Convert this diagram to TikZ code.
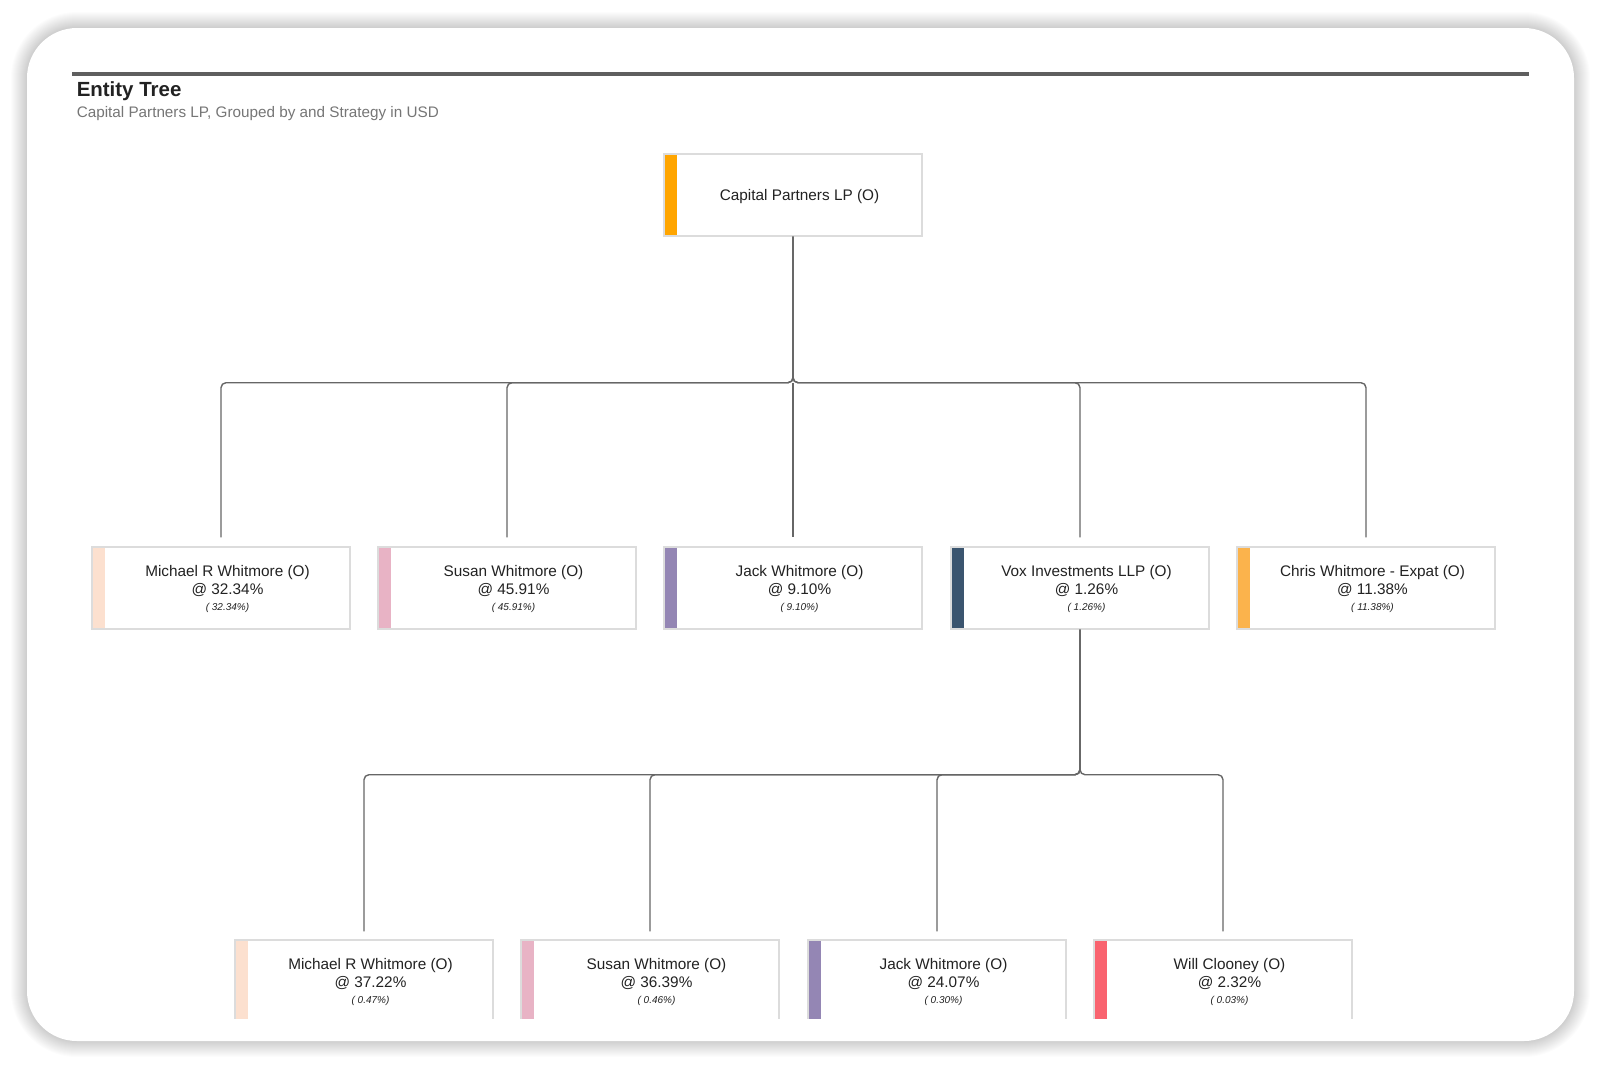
\documentclass[tikz,border=0pt]{standalone}
\usepackage{fontspec}
\setmainfont{Liberation Sans}
\newdimen\pxu \pxu=0.75pt
\definecolor{rootbar}{HTML}{FFA500}
\definecolor{peach}{HTML}{FCE0CF}
\definecolor{pinkbar}{HTML}{E8B3C5}
\definecolor{purplebar}{HTML}{9486B4}
\definecolor{navybar}{HTML}{3B556F}
\definecolor{amberbar}{HTML}{FBB34C}
\definecolor{coralbar}{HTML}{F9636F}
\definecolor{boxline}{HTML}{DCDCDC}
\definecolor{connc}{HTML}{666666}
\definecolor{txtc}{HTML}{222222}
\definecolor{subc}{HTML}{767676}
\definecolor{hdrline}{HTML}{5F5F5F}
\newcommand\fname{\fontsize{11.5pt}{13.5pt}\selectfont}
\newcommand\fsmall{\fontsize{7.5pt}{9pt}\selectfont\itshape}
\begin{document}
\begin{tikzpicture}[x=0.75pt,y=-0.75pt,
  ent/.style={rectangle, draw=boxline, line width=1.4\pxu, fill=white,
    minimum width=258\pxu, minimum height=82\pxu, inner sep=0pt,
    path picture={\fill[#1] (path picture bounding box.north west) rectangle ([xshift=13\pxu]path picture bounding box.south west);}},
  txt/.style={align=center, text=txtc, font=\fname, inner sep=0pt},
  conn/.style={draw=connc, line width=1.4\pxu, rounded corners=5\pxu}]
\useasboundingbox (0,0) rectangle (1600,1068);
\fill[white] (0,0) rectangle (1600,1068);
% card shadow
\foreach \k in {1,...,16}{
  \pgfmathsetmacro\rr{(50+\k)*0.75}
  \fill[black,opacity=0.012,rounded corners=\rr pt] (27-\k,28-\k) rectangle (1574+\k,1041+\k);
}
\fill[white, rounded corners=37.5pt] (27,28) rectangle (1574,1041);
% header
\draw[hdrline, line width=4\pxu] (72,74) -- (1529,74);
\node[anchor=base west, inner sep=0pt, text=txtc, font=\fontsize{15.35pt}{18pt}\selectfont\bfseries] (title) at (76.5,96.5) {Entity Tree};
\node[anchor=base west, inner sep=0pt, text=subc, font=\fontsize{11.45pt}{13.5pt}\selectfont] (subtitle) at (76.5,117) {Capital Partners LP, Grouped by and Strategy in USD};
% root
\node[ent=rootbar] (root) at (793,195) {};
\node[txt] (roott) at ([xshift=6.5\pxu,yshift=-2\pxu]root.center) {Capital Partners LP (O)};
% level 1
\node[ent=peach] (m1) at (221,588) {};
\node[txt] (m1t) at ([xshift=6.5\pxu,yshift=-1\pxu]m1.center) {Michael R Whitmore (O)\\@ 32.34\%\\[-1.5pt]{\fsmall( 32.34\%)}};
\node[ent=pinkbar] (s1) at (507,588) {};
\node[txt] (s1t) at ([xshift=6.5\pxu,yshift=-1\pxu]s1.center) {Susan Whitmore (O)\\@ 45.91\%\\[-1.5pt]{\fsmall( 45.91\%)}};
\node[ent=purplebar] (j1) at (793,588) {};
\node[txt] (j1t) at ([xshift=6.5\pxu,yshift=-1\pxu]j1.center) {Jack Whitmore (O)\\@ 9.10\%\\[-1.5pt]{\fsmall( 9.10\%)}};
\node[ent=navybar] (v1) at (1080,588) {};
\node[txt] (v1t) at ([xshift=6.5\pxu,yshift=-1\pxu]v1.center) {Vox Investments LLP (O)\\@ 1.26\%\\[-1.5pt]{\fsmall( 1.26\%)}};
\node[ent=amberbar] (c1) at (1366,588) {};
\node[txt] (c1t) at ([xshift=6.5\pxu,yshift=-1\pxu]c1.center) {Chris Whitmore - Expat (O)\\@ 11.38\%\\[-1.5pt]{\fsmall( 11.38\%)}};
% level 2 (clipped at the bottom)
\begin{scope}
\clip (0,0) rectangle (1600,1018);
\node[ent=peach] (m2) at (364,981) {};
\node[txt] (m2t) at ([xshift=6.5\pxu,yshift=-1\pxu]m2.center) {Michael R Whitmore (O)\\@ 37.22\%\\[-1.5pt]{\fsmall( 0.47\%)}};
\node[ent=pinkbar] (s2) at (650,981) {};
\node[txt] (s2t) at ([xshift=6.5\pxu,yshift=-1\pxu]s2.center) {Susan Whitmore (O)\\@ 36.39\%\\[-1.5pt]{\fsmall( 0.46\%)}};
\node[ent=purplebar] (j2) at (937,981) {};
\node[txt] (j2t) at ([xshift=6.5\pxu,yshift=-1\pxu]j2.center) {Jack Whitmore (O)\\@ 24.07\%\\[-1.5pt]{\fsmall( 0.30\%)}};
\node[ent=coralbar] (w2) at (1223,981) {};
\node[txt] (w2t) at ([xshift=6.5\pxu,yshift=-1\pxu]w2.center) {Will Clooney (O)\\@ 2.32\%\\[-1.5pt]{\fsmall( 0.03\%)}};
\end{scope}
% connectors level 1
\foreach \c in {m1,s1,v1,c1}{
  \draw[conn] (root.south) -- ++(0,146) -| ([yshift=9\pxu]\c.north);
}
\draw[conn] ([yshift=-146\pxu]root.south) -- ([yshift=9\pxu]j1.north);
% connectors level 2
\foreach \c in {m2,s2,j2,w2}{
  \draw[conn] (v1.south) -- ++(0,145) -| ([yshift=8\pxu]\c.north);
}
\end{tikzpicture}
\end{document}
